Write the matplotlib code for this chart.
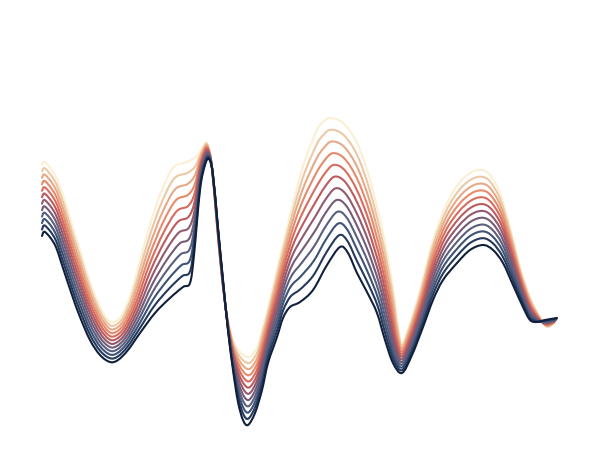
import matplotlib
matplotlib.use('Agg')
import matplotlib.pyplot as plt
import numpy as np
from matplotlib.path import Path
from matplotlib.patches import PathPatch

# darkest curve (front)
dark_x = [42, 45, 55, 63, 72, 80, 90, 100, 110, 118, 128, 140, 155, 170, 183,
          190, 194, 200, 205, 209, 213, 218, 223, 228, 233, 238, 243, 248,
          255, 262, 268, 277, 283, 290, 300, 313, 327, 340, 348, 357, 367,
          377, 385, 393, 402, 412, 423, 433, 443, 457, 470, 483, 493, 503,
          513, 523, 530, 537, 545, 557]
dark_y = [236, 232, 245, 268, 295, 317, 340, 355, 362, 360, 350, 333, 313,
          298, 287, 283, 255, 190, 165, 159, 175, 228, 280, 330, 370, 402,
          420, 425, 413, 390, 363, 337, 318, 307, 302, 290, 265, 247, 253,
          273, 292, 313, 340, 363, 373, 355, 327, 300, 280, 263, 250, 245,
          250, 263, 285, 307, 320, 322, 320, 318]

# lightest curve (back)
light_x = [42, 45, 55, 63, 72, 80, 90, 100, 108, 114, 122, 132, 147, 160,
           173, 187, 195, 200, 204, 207, 211, 216, 221, 227, 233, 240, 247,
           252, 258, 262, 270, 278, 287, 296, 305, 317, 323, 330, 343, 357,
           370, 383, 393, 398, 402, 410, 420, 433, 447, 460, 472, 482, 490,
           500, 510, 520, 530, 540, 547, 553]
light_y = [165, 162, 175, 195, 225, 250, 282, 307, 320, 322, 315, 290, 235,
           195, 168, 162, 158, 152, 145, 143, 160, 215, 270, 315, 340, 352,
           357, 355, 345, 330, 300, 265, 228, 192, 160, 130, 122, 118, 123,
           143, 180, 233, 287, 325, 343, 323, 290, 240, 203, 182, 172, 170,
           175, 193, 227, 267, 297, 317, 327, 324]

line_colors = ["#10203b", "#24395c", "#3e5275", "#5a5f7e", "#745c78",
               "#935a6e", "#bc5b5e", "#d86c5e", "#e58b6c", "#e6a987",
               "#ecc9a6", "#fbefd5"]


def smooth_path(xs, ys):
    # Catmull-Rom through the points, drawn as cubic Bezier segments
    pts = np.column_stack([xs, ys])
    verts = [pts[0]]
    codes = [Path.MOVETO]
    n = len(pts)
    for i in range(n - 1):
        p0 = pts[max(i - 1, 0)]
        p1 = pts[i]
        p2 = pts[i + 1]
        p3 = pts[min(i + 2, n - 1)]
        c1 = p1 + (p2 - p0) / 6.0
        c2 = p2 - (p3 - p1) / 6.0
        verts += [c1, c2, p2]
        codes += [Path.CURVE4] * 3
    return Path(verts, codes)


fig = plt.figure(figsize=(6, 4.5), dpi=100)
ax = fig.add_axes([0, 0, 1, 1])

dx, dy = np.array(dark_x, float), np.array(dark_y, float)
lx, ly = np.array(light_x, float), np.array(light_y, float)
n_lines = len(line_colors)

# light lines behind, dark in front
for k in range(n_lines - 1, -1, -1):
    t = k / (n_lines - 1)
    xs = (1 - t) * dx + t * lx
    ys = (1 - t) * dy + t * ly
    patch = PathPatch(smooth_path(xs, ys), facecolor='none',
                      edgecolor=line_colors[k], lw=1.5,
                      capstyle='round', joinstyle='round')
    ax.add_patch(patch)

ax.set_xlim(0, 600)
ax.set_ylim(450, 0)
ax.axis('off')

plt.savefig('out.png', dpi=100)
